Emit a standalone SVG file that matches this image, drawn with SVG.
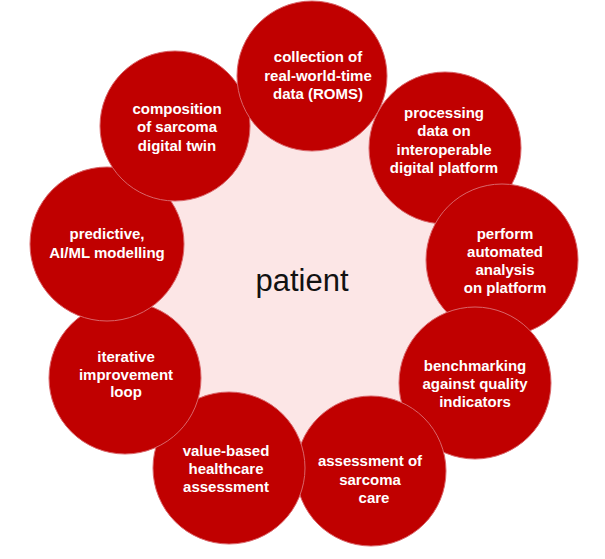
<svg xmlns="http://www.w3.org/2000/svg" width="605" height="559" viewBox="0 0 605 559">
<style>
.node circle{fill:#c00000;stroke:#d9666a;stroke-width:1}
.node text{font-family:"Liberation Sans",Arial,sans-serif;font-weight:bold;font-size:15px;fill:#ffffff;text-anchor:middle}
.center text{font-family:"Liberation Sans",Arial,sans-serif;font-size:31px;fill:#111111;text-anchor:middle}
</style>
<rect width="605" height="559" fill="#ffffff"/>
<g id="patient" class="center">
<circle cx="305" cy="284" r="200" fill="#fce6e6"/>
<text x="302" y="291">patient</text>
</g>
<g id="connectors"></g>
<g id="processing" class="node">
<circle cx="445" cy="148" r="76"/>
<text x="444" y="118">processing</text>
<text x="444" y="136">data on</text>
<text x="444" y="155">interoperable</text>
<text x="444" y="173">digital platform</text>
</g>
<g id="perform" class="node">
<circle cx="502" cy="260" r="76"/>
<text x="505" y="239">perform</text>
<text x="505" y="257">automated</text>
<text x="505" y="275">analysis</text>
<text x="505" y="293">on platform</text>
</g>
<g id="benchmarking" class="node">
<circle cx="475" cy="383" r="76"/>
<text x="475" y="371">benchmarking</text>
<text x="475" y="389">against quality</text>
<text x="475" y="407">indicators</text>
</g>
<g id="assessment" class="node">
<circle cx="371" cy="471" r="75"/>
<text x="370" y="466">assessment of</text>
<text x="370" y="485">sarcoma</text>
<text x="374" y="503">care</text>
</g>
<g id="value" class="node">
<circle cx="229" cy="468" r="76"/>
<text x="226" y="456">value-based</text>
<text x="226" y="474">healthcare</text>
<text x="226" y="492">assessment</text>
</g>
<g id="iterative" class="node">
<circle cx="125" cy="378" r="76"/>
<text x="126" y="362">iterative</text>
<text x="126" y="380">improvement</text>
<text x="126" y="397">loop</text>
</g>
<g id="predictive" class="node">
<circle cx="107" cy="244" r="77"/>
<text x="107" y="239">predictive,</text>
<text x="107" y="258">AI/ML modelling</text>
</g>
<g id="composition" class="node">
<circle cx="175" cy="126" r="75"/>
<text x="177" y="114">composition</text>
<text x="177" y="132">of sarcoma</text>
<text x="177" y="151">digital twin</text>
</g>
<g id="collection" class="node">
<circle cx="312" cy="76" r="75"/>
<text x="318" y="62">collection of</text>
<text x="318" y="81">real-world-time</text>
<text x="318" y="99">data (ROMS)</text>
</g>
</svg>
